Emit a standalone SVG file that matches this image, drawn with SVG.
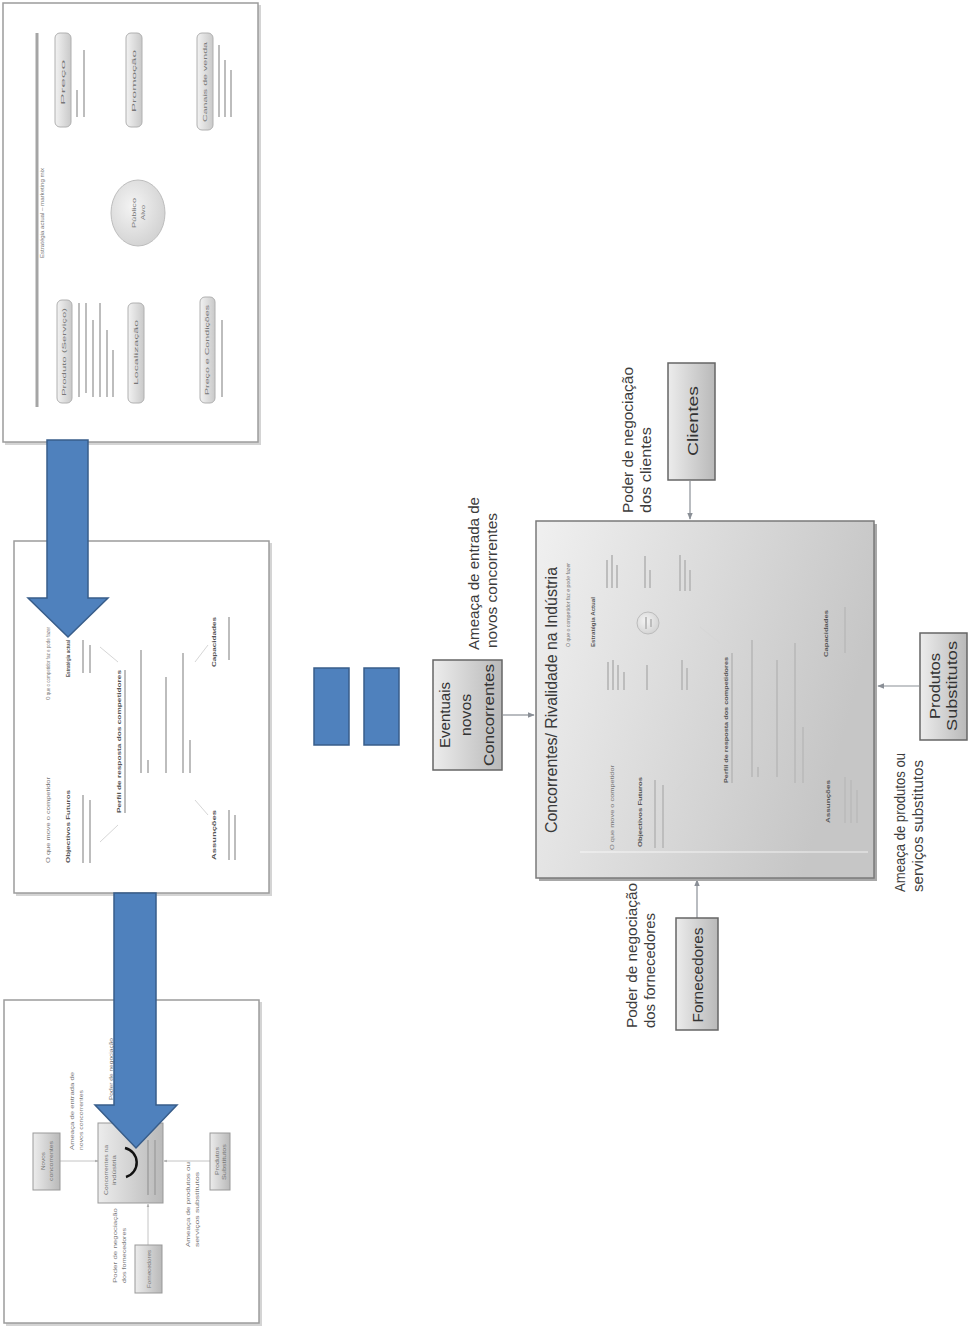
<svg xmlns="http://www.w3.org/2000/svg" width="969" height="1327" viewBox="0 0 969 1327">
<defs>
<linearGradient id="gMain" x1="0" y1="0" x2="1" y2="0.3">
<stop offset="0" stop-color="#f0f0f0"/><stop offset="1" stop-color="#c6c6c6"/>
</linearGradient>
<linearGradient id="gBox" x1="0" y1="0" x2="1" y2="0">
<stop offset="0" stop-color="#ececec"/><stop offset="1" stop-color="#b9b9b9"/>
</linearGradient>
<linearGradient id="gPill" x1="0" y1="0" x2="1" y2="0">
<stop offset="0" stop-color="#f2f2f2"/><stop offset="1" stop-color="#c9c9c9"/>
</linearGradient>
<radialGradient id="gCirc" cx="0.4" cy="0.4" r="0.7">
<stop offset="0" stop-color="#f4f4f4"/><stop offset="1" stop-color="#cfcfcf"/>
</radialGradient>
<marker id="ah" viewBox="0 0 10 10" refX="9" refY="5" markerWidth="6" markerHeight="6" orient="auto">
<path d="M0,1 L10,5 L0,9 Z" fill="#8a8f96"/>
</marker>
<marker id="ahs" viewBox="0 0 10 10" refX="9" refY="5" markerWidth="4" markerHeight="4" orient="auto">
<path d="M0,1 L10,5 L0,9 Z" fill="#aaaaaa"/>
</marker>
</defs>
<style>
.slide{fill:#ffffff;stroke:#9c9c9c;stroke-width:1.5}
.shadow{fill:#d4d4d4}
.lbl{font-family:"Liberation Sans",Arial,sans-serif;font-size:15px;fill:#3c3c3c}
.btxt{font-family:"Liberation Sans",Arial,sans-serif;font-size:15px;fill:#333333}
.tiny{font-family:"Liberation Sans",Arial,sans-serif;font-size:5px;fill:#777777}
.tinyb{font-family:"Liberation Sans",Arial,sans-serif;font-size:6px;font-weight:bold;fill:#555555}
.bar{fill:#bdbdbd}
.bar2{fill:#a9a9a9}
.faint{stroke:#d6d6d6;stroke-width:1;fill:none}
.box{fill:url(#gBox);stroke:#666666;stroke-width:1.5}
.pill{fill:url(#gPill);stroke:#b0b0b0;stroke-width:1}
.conn{stroke:#8a8f96;stroke-width:1.2;fill:none}
.sconn{stroke:#b5b5b5;stroke-width:0.8;fill:none}
.blue{fill:#4f81bd;stroke:#385d8a;stroke-width:1.5}
</style>

<!-- Top slide: marketing mix -->
<g id="slide-top">
<rect class="shadow" x="5" y="5" width="256" height="440"/>
<rect class="slide" x="3" y="3" width="255" height="439"/>
<line x1="37" y1="33" x2="37" y2="407" stroke="#a5a5a5" stroke-width="3"/>
<text class="tiny" transform="translate(44,258) rotate(-90)" textLength="90" lengthAdjust="spacingAndGlyphs" fill="#aaaaaa">Estratégia actual – marketing mix</text>
<rect class="pill" x="57" y="300" width="15" height="103" rx="5"/>
<text class="tiny" transform="translate(66,396) rotate(-90)" textLength="88" lengthAdjust="spacingAndGlyphs">Produto (Serviço)</text>
<rect class="bar" x="78" y="303" width="2" height="94"/><rect class="bar" x="85" y="303" width="2" height="90"/><rect class="bar" x="92" y="320" width="2" height="77"/><rect class="bar" x="99" y="303" width="2" height="94"/><rect class="bar" x="106" y="330" width="2" height="67"/><rect class="bar" x="112" y="350" width="2" height="47"/>
<rect class="pill" x="55" y="33" width="16" height="94" rx="5"/>
<text class="tiny" transform="translate(65,105) rotate(-90)" textLength="45" lengthAdjust="spacingAndGlyphs">Preço</text>
<rect class="bar" x="76" y="90" width="2" height="27"/><rect class="bar" x="83" y="50" width="2" height="67"/>
<rect class="pill" x="128" y="303" width="16" height="100" rx="5"/>
<text class="tiny" transform="translate(138,385) rotate(-90)" textLength="65" lengthAdjust="spacingAndGlyphs">Localização</text>
<rect class="pill" x="126" y="33" width="16" height="94" rx="5"/>
<text class="tiny" transform="translate(136,112) rotate(-90)" textLength="62" lengthAdjust="spacingAndGlyphs">Promoção</text>
<rect class="pill" x="200" y="297" width="15" height="106" rx="5"/>
<text class="tiny" transform="translate(209,395) rotate(-90)" textLength="90" lengthAdjust="spacingAndGlyphs">Preço e Condições</text>
<rect class="bar" x="221" y="320" width="2" height="77"/>
<rect class="pill" x="197" y="33" width="16" height="97" rx="5"/>
<text class="tiny" transform="translate(207,122) rotate(-90)" textLength="80" lengthAdjust="spacingAndGlyphs">Canais de venda</text>
<rect class="bar" x="218" y="45" width="2" height="72"/><rect class="bar" x="224" y="60" width="2" height="57"/><rect class="bar" x="230" y="70" width="2" height="47"/>
<ellipse cx="138" cy="213" rx="27" ry="33" fill="url(#gCirc)" stroke="#bdbdbd" stroke-width="1"/>
<text class="tiny" transform="translate(136,228) rotate(-90)" textLength="30" lengthAdjust="spacingAndGlyphs">Público</text>
<text class="tiny" transform="translate(145,220) rotate(-90)" textLength="15" lengthAdjust="spacingAndGlyphs">Alvo</text>
</g>

<!-- Middle slide: competitor analysis -->
<g id="slide-middle">
<rect class="shadow" x="16" y="543" width="256" height="353"/>
<rect class="slide" x="14" y="541" width="255" height="352"/>
<line class="faint" x1="100" y1="647" x2="118" y2="662"/>
<line class="faint" x1="118" y1="825" x2="100" y2="842"/>
<line class="faint" x1="195" y1="800" x2="208" y2="815"/>
<line class="faint" x1="195" y1="662" x2="208" y2="645"/>
<text class="tiny" transform="translate(50,863) rotate(-90)" textLength="86" lengthAdjust="spacingAndGlyphs">O que move o competidor</text>
<text class="tinyb" transform="translate(70,863) rotate(-90)" textLength="73" lengthAdjust="spacingAndGlyphs">Objectivos Futuros</text>
<rect class="bar" x="82" y="795" width="2" height="68"/><rect class="bar" x="89" y="800" width="2" height="63"/>
<text class="tiny" transform="translate(50,700) rotate(-90)" textLength="73" lengthAdjust="spacingAndGlyphs">O que o competidor faz e pode fazer</text>
<text class="tinyb" transform="translate(70,677) rotate(-90)" textLength="37" lengthAdjust="spacingAndGlyphs">Estratégia actual</text>
<rect class="bar" x="82" y="640" width="2" height="33"/><rect class="bar" x="89" y="645" width="2" height="28"/>
<text class="tinyb" transform="translate(121,813) rotate(-90)" textLength="143" lengthAdjust="spacingAndGlyphs">Perfil de resposta dos competidores</text>
<rect class="bar" x="124" y="670" width="2" height="143"/>
<rect class="bar" x="140" y="650" width="2" height="123"/><rect class="bar" x="147" y="760" width="2" height="13"/>
<rect class="bar" x="165" y="677" width="2" height="96"/>
<rect class="bar" x="182" y="653" width="2" height="120"/><rect class="bar" x="189" y="740" width="2" height="33"/>
<text class="tinyb" transform="translate(216,860) rotate(-90)" textLength="50" lengthAdjust="spacingAndGlyphs">Assunções</text>
<rect class="bar" x="228" y="810" width="2" height="50"/><rect class="bar" x="234" y="815" width="2" height="45"/>
<text class="tinyb" transform="translate(216,667) rotate(-90)" textLength="50" lengthAdjust="spacingAndGlyphs">Capacidades</text>
<rect class="bar" x="228" y="617" width="2" height="43"/>
</g>

<!-- Bottom slide: five forces thumbnail -->
<g id="slide-bottom">
<rect class="shadow" x="6" y="1002" width="256" height="324"/>
<rect class="slide" x="4" y="1000" width="255" height="323"/>
<line class="sconn" x1="60" y1="1161" x2="98" y2="1161" marker-end="url(#ahs)"/>
<line class="sconn" x1="210" y1="1161" x2="164" y2="1161" marker-end="url(#ahs)"/>
<line class="sconn" x1="148" y1="1245" x2="148" y2="1204" marker-end="url(#ahs)"/>
<rect x="33" y="1133" width="27" height="57" fill="url(#gBox)" stroke="#999" stroke-width="1"/>
<text class="tiny" transform="translate(45,1170) rotate(-90)" textLength="18" lengthAdjust="spacingAndGlyphs">Novos</text>
<text class="tiny" transform="translate(53,1181) rotate(-90)" textLength="40" lengthAdjust="spacingAndGlyphs">concorrentes</text>
<text class="tiny" transform="translate(74,1150) rotate(-90)" textLength="78" lengthAdjust="spacingAndGlyphs">Ameaça de entrada de</text>
<text class="tiny" transform="translate(83,1150) rotate(-90)" textLength="60" lengthAdjust="spacingAndGlyphs">novos concorrentes</text>
<text class="tiny" transform="translate(113,1100) rotate(-90)" textLength="62" lengthAdjust="spacingAndGlyphs">Poder de negociação</text>
<rect x="98" y="1123" width="65" height="80" fill="url(#gBox)" stroke="#999" stroke-width="1"/>
<text class="tiny" transform="translate(108,1195) rotate(-90)" textLength="50" lengthAdjust="spacingAndGlyphs">Concorrentes na</text>
<text class="tiny" transform="translate(116,1185) rotate(-90)" textLength="30" lengthAdjust="spacingAndGlyphs">indústria</text>
<rect class="bar2" x="147" y="1140" width="2" height="55"/><rect class="bar2" x="154" y="1140" width="2" height="55"/>
<path d="M125,1148 A15,15 0 0 1 126,1177" stroke="#111" stroke-width="2.5" fill="none"/>
<rect x="210" y="1133" width="20" height="57" fill="url(#gBox)" stroke="#999" stroke-width="1"/>
<text class="tiny" transform="translate(219,1175) rotate(-90)" textLength="28" lengthAdjust="spacingAndGlyphs">Produtos</text>
<text class="tiny" transform="translate(226,1180) rotate(-90)" textLength="36" lengthAdjust="spacingAndGlyphs">Substitutos</text>
<text class="tiny" transform="translate(190,1247) rotate(-90)" textLength="85" lengthAdjust="spacingAndGlyphs">Ameaça de produtos ou</text>
<text class="tiny" transform="translate(199,1247) rotate(-90)" textLength="75" lengthAdjust="spacingAndGlyphs">serviços substitutos</text>
<rect x="135" y="1245" width="27" height="48" fill="url(#gBox)" stroke="#999" stroke-width="1"/>
<text class="tiny" transform="translate(151,1288) rotate(-90)" textLength="38" lengthAdjust="spacingAndGlyphs">Fornecedores</text>
<text class="tiny" transform="translate(117,1283) rotate(-90)" textLength="75" lengthAdjust="spacingAndGlyphs">Poder de negociação</text>
<text class="tiny" transform="translate(126,1283) rotate(-90)" textLength="55" lengthAdjust="spacingAndGlyphs">dos fornecedores</text>
</g>

<!-- Blue arrows and equals sign -->
<g id="arrow-1">
<polygon class="blue" points="47,440 88,440 88,598 108,598 68,637 28,598 47,598"/>
</g>
<g id="arrow-2">
<polygon class="blue" points="114,893 156,893 156,1105 177,1105 136,1148 95,1105 114,1105"/>
</g>
<g id="equals">
<rect class="blue" x="314" y="668" width="35" height="77"/>
<rect class="blue" x="364" y="668" width="35" height="77"/>
</g>

<!-- Connectors -->
<g id="connectors">
<line class="conn" x1="503" y1="715" x2="534" y2="715" marker-end="url(#ah)"/>
<line class="conn" x1="690" y1="481" x2="690" y2="519" marker-end="url(#ah)"/>
<line class="conn" x1="919" y1="686" x2="878" y2="686" marker-end="url(#ah)"/>
<line class="conn" x1="697" y1="918" x2="697" y2="880" marker-end="url(#ah)"/>
</g>

<!-- Main box -->
<g id="main-box">
<rect x="539" y="524" width="338" height="357" fill="#a8a8a8"/>
<rect x="536" y="521" width="338" height="357" fill="url(#gMain)" stroke="#7a7a7a" stroke-width="1.5"/>
<line x1="580" y1="852" x2="868" y2="852" stroke="#ffffff" stroke-opacity="0.5" stroke-width="1.5"/>
<text transform="translate(557,833) rotate(-90)" font-family="'Liberation Sans',Arial,sans-serif" font-size="17" fill="#3a3a3a" textLength="266" lengthAdjust="spacingAndGlyphs">Concorrentes/ Rivalidade na Indústria</text>
<text class="tiny" transform="translate(570,647) rotate(-90)" textLength="84" lengthAdjust="spacingAndGlyphs">O que o competidor faz e pode fazer</text>
<text class="tinyb" transform="translate(595,647) rotate(-90)" textLength="50" lengthAdjust="spacingAndGlyphs">Estratégia Actual</text>
<line class="faint" x1="700" y1="627" x2="720" y2="643"/>
<line class="faint" x1="677" y1="790" x2="693" y2="773"/>
<rect class="bar" x="606" y="560" width="2" height="28"/><rect class="bar" x="611" y="555" width="2" height="33"/><rect class="bar" x="616" y="565" width="2" height="23"/>
<rect class="bar" x="644" y="556" width="2" height="32"/><rect class="bar" x="649" y="570" width="2" height="18"/>
<rect class="bar" x="679" y="555" width="2" height="36"/><rect class="bar" x="684" y="560" width="2" height="31"/><rect class="bar" x="689" y="570" width="2" height="21"/>
<circle cx="648" cy="623" r="11" fill="url(#gCirc)" stroke="#bcbcbc" stroke-width="1"/>
<rect class="bar" x="645" y="617" width="2" height="12"/><rect class="bar" x="650" y="619" width="2" height="8"/>
<rect class="bar" x="607" y="662" width="2" height="28"/><rect class="bar" x="612" y="660" width="2" height="30"/><rect class="bar" x="617" y="665" width="2" height="25"/><rect class="bar" x="623" y="672" width="2" height="18"/>
<rect class="bar" x="646" y="665" width="2" height="25"/>
<rect class="bar" x="681" y="660" width="2" height="30"/><rect class="bar" x="686" y="668" width="2" height="22"/>
<text class="tiny" transform="translate(614,850) rotate(-90)" textLength="85" lengthAdjust="spacingAndGlyphs">O que move o competidor</text>
<text class="tinyb" transform="translate(642,847) rotate(-90)" textLength="70" lengthAdjust="spacingAndGlyphs">Objectivos Futuros</text>
<rect class="bar" x="654" y="780" width="2" height="68"/><rect class="bar" x="662" y="785" width="2" height="63"/>
<text class="tinyb" transform="translate(728,783) rotate(-90)" textLength="126" lengthAdjust="spacingAndGlyphs">Perfil de resposta dos competidores</text>
<rect class="bar" x="731" y="653" width="2" height="130"/>
<rect class="bar" x="751" y="640" width="2" height="137"/><rect class="bar" x="757" y="767" width="2" height="10"/>
<rect class="bar" x="776" y="660" width="2" height="117"/>
<rect class="bar" x="794" y="643" width="2" height="140"/><rect class="bar" x="802" y="727" width="2" height="56"/>
<text class="tinyb" transform="translate(828,657) rotate(-90)" textLength="47" lengthAdjust="spacingAndGlyphs">Capacidades</text>
<rect class="bar" x="844" y="607" width="2" height="46"/>
<text class="tinyb" transform="translate(830,823) rotate(-90)" textLength="43" lengthAdjust="spacingAndGlyphs">Assunções</text>
<rect class="bar" x="844" y="777" width="2" height="46"/><rect class="bar" x="850" y="780" width="2" height="43"/><rect class="bar" x="856" y="790" width="2" height="33"/>
</g>

<!-- Force boxes -->
<g id="node-eventuais">
<rect class="box" x="433" y="660" width="69" height="110"/>
<text class="btxt" text-anchor="middle" transform="translate(450,715) rotate(-90)" textLength="66" lengthAdjust="spacingAndGlyphs">Eventuais</text>
<text class="btxt" text-anchor="middle" transform="translate(471,715) rotate(-90)" textLength="42" lengthAdjust="spacingAndGlyphs">novos</text>
<text class="btxt" text-anchor="middle" transform="translate(494,715) rotate(-90)" textLength="102" lengthAdjust="spacingAndGlyphs">Concorrentes</text>
</g>
<g id="node-clientes">
<rect class="box" x="668" y="363" width="47" height="117"/>
<text class="btxt" text-anchor="middle" transform="translate(698,421) rotate(-90)" textLength="70" lengthAdjust="spacingAndGlyphs">Clientes</text>
</g>
<g id="node-produtos">
<rect class="box" x="920" y="633" width="47" height="107"/>
<text class="btxt" text-anchor="middle" transform="translate(940,686) rotate(-90)" textLength="66" lengthAdjust="spacingAndGlyphs">Produtos</text>
<text class="btxt" text-anchor="middle" transform="translate(957,686) rotate(-90)" textLength="90" lengthAdjust="spacingAndGlyphs">Substitutos</text>
</g>
<g id="node-fornecedores">
<rect class="box" x="676" y="918" width="42" height="112"/>
<text class="btxt" text-anchor="middle" transform="translate(703,975) rotate(-90)" textLength="95" lengthAdjust="spacingAndGlyphs">Fornecedores</text>
</g>

<!-- Force labels -->
<g id="labels">
<text class="lbl" transform="translate(479,650) rotate(-90)" textLength="153" lengthAdjust="spacingAndGlyphs">Ameaça de entrada de</text>
<text class="lbl" transform="translate(497,648) rotate(-90)" textLength="135" lengthAdjust="spacingAndGlyphs">novos concorrentes</text>
<text class="lbl" transform="translate(633,513) rotate(-90)" textLength="146" lengthAdjust="spacingAndGlyphs">Poder de negociação</text>
<text class="lbl" transform="translate(651,513) rotate(-90)" textLength="86" lengthAdjust="spacingAndGlyphs">dos clientes</text>
<text class="lbl" transform="translate(905,892) rotate(-90)" textLength="139" lengthAdjust="spacingAndGlyphs">Ameaça de produtos ou</text>
<text class="lbl" transform="translate(923,892) rotate(-90)" textLength="132" lengthAdjust="spacingAndGlyphs">serviços substitutos</text>
<text class="lbl" transform="translate(637,1028) rotate(-90)" textLength="145" lengthAdjust="spacingAndGlyphs">Poder de negociação</text>
<text class="lbl" transform="translate(655,1028) rotate(-90)" textLength="115" lengthAdjust="spacingAndGlyphs">dos fornecedores</text>
</g>
</svg>
